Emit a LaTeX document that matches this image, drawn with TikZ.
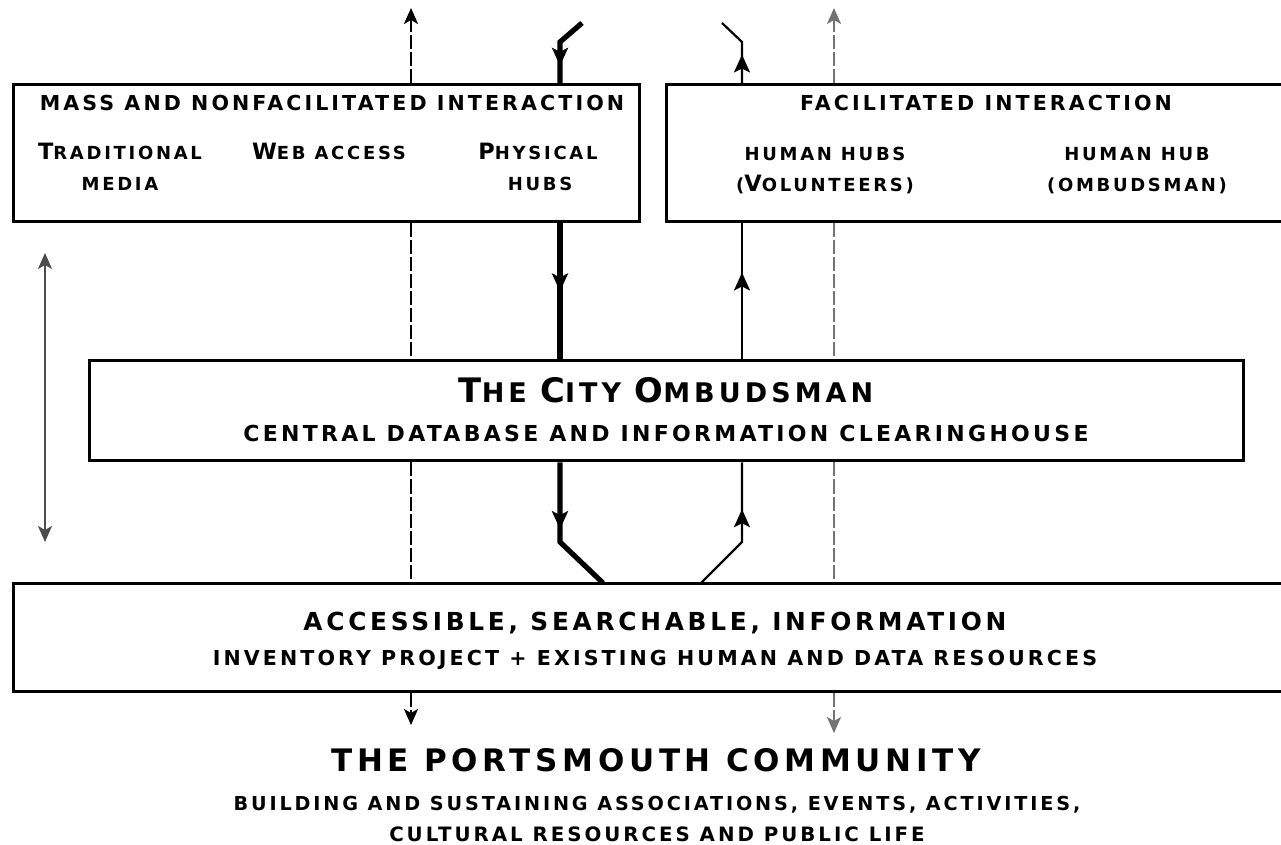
\documentclass[tikz,border=0pt]{standalone}
\usepackage{fontspec}
\usepackage{tikz}
\usetikzlibrary{arrows.meta,decorations.markings}
\newfontfamily\cpfont[LetterSpace=15]{DejaVu Sans}
\newcommand{\ini}[1]{\scalebox{1.25}{#1}}% bigger first letter, small caps look
\tikzset{
  box/.style = {rectangle, draw=black, line width=1.5pt, inner sep=0pt},
  lbl/.style = {inner sep=0pt, anchor=base,
    font=\cpfont\bfseries\fontsize{#1}{#1}\selectfont},
  thk/.style = {line width=2.6pt},% physical hubs flow
  thn/.style = {line width=1.1pt},% volunteers flow
  dsh/.style = {line width=1.2pt, dash pattern=on 7pt off 1.5pt},
  gdsh/.style = {line width=0.8pt, black!55, dash pattern=on 7pt off 1.5pt},
  tip/.style = {-{Stealth[length=8pt,width=7pt,inset=2pt]}},
  midarr/.style = {postaction={decorate}, decoration={markings,
    mark=at position #1 with {\arrow{Stealth[length=9pt,width=8pt,inset=2pt]}}}}
}

\begin{document}
\begin{tikzpicture}[x=0.5pt, y=-0.5pt]
	\useasboundingbox (0,0) rectangle (1281,845);
	% boxes
	\node [box, minimum width=313pt, minimum height=68.5pt] (mass) at (326,153.5) {};
	\node [box, minimum width=312pt, minimum height=68.5pt] (facil) at (978,153.5) {};
	\node [box, minimum width=577pt, minimum height=50pt] (ombud) at (666,411) {};
	\node [box, minimum width=638.5pt, minimum height=54pt] (access) at (651.5,637) {};

	% texts
	\node [lbl=10.3] (massT) at (332,110.5) {MASS AND NONFACILITATED INTERACTION};
	\node [lbl=10.3] (facilT) at (986,110.5) {FACILITATED INTERACTION};
	\node [lbl=9] (tradT) at (120,160) {\ini{T}RADITIONAL};
	\node [lbl=9] (mediaT) at (120,191) {MEDIA};
	\node [lbl=9] (webT) at (329,160) {\ini{W}EB ACCESS};
	\node [lbl=9] (physT) at (538,160) {\ini{P}HYSICAL};
	\node [lbl=9] (hubsT) at (540,191) {HUBS};
	\node [lbl=9] (volA) at (825,161) {HUMAN HUBS};
	\node [lbl=9] (volB) at (825,192) {(\ini{V}OLUNTEERS)};
	\node [lbl=9] (omA) at (1137,161) {HUMAN HUB};
	\node [lbl=9] (omB) at (1137,192) {(OMBUDSMAN)};
	\node [lbl=13.5] (cityT) at (666,403) {\ini{T}HE \ini{C}ITY \ini{O}MBUDSMAN};
	\node [lbl=11] (centralT) at (666,442) {CENTRAL DATABASE AND INFORMATION CLEARINGHOUSE};
	\node [lbl=12.4] (accT) at (655,630) {ACCESSIBLE, SEARCHABLE, INFORMATION};
	\node [lbl=10.3] (invT) at (655,665) {INVENTORY PROJECT + EXISTING HUMAN AND DATA RESOURCES};
	\node [lbl=15.5] (portT) at (656,771) {THE PORTSMOUTH COMMUNITY};
	\node [lbl=9.6] (buildT) at (657,810) {BUILDING AND SUSTAINING ASSOCIATIONS, EVENTS, ACTIVITIES,};
	\node [lbl=9.9] (cultT) at (657,841) {CULTURAL RESOURCES AND PUBLIC LIFE};

	% free ends and bends
	\coordinate (aTop) at (411,8);
	\coordinate (aBot) at (411,725);
	\coordinate (dTop) at (834,8);
	\coordinate (dBot) at (834,733);
	\coordinate (bIn) at (582,23);
	\coordinate (bKnee) at (560,42);
	\coordinate (bLow) at (560,542);
	\coordinate (bFoot) at (603,583);
	\coordinate (cOut) at (722,23);
	\coordinate (cKnee) at (742,42);
	\coordinate (cLow) at (742,542);
	\coordinate (cFoot) at (701,583);
	\coordinate (sTop) at (45,253);
	\coordinate (sBot) at (45,542);

	% dashed lines
	\draw [dsh, tip] (mass.north -| aTop) -- (aTop);
	\draw [dsh] (mass.south -| aTop) -- (ombud.north -| aTop);
	\draw [dsh] (ombud.south -| aTop) -- (access.north -| aTop);
	\draw [dsh, tip] (access.south -| aTop) -- (aBot);
	\draw [gdsh, tip] (facil.north -| dTop) -- (dTop);
	\draw [gdsh] (facil.south -| dTop) -- (ombud.north -| dTop);
	\draw [gdsh] (ombud.south -| dTop) -- (access.north -| dTop);
	\draw [gdsh, tip] (access.south -| dTop) -- (dBot);

	% thick flow down
	\draw [thk, midarr=0.75] (bIn) -- (bKnee) -- (mass.north -| bKnee);
	\draw [thk, midarr=0.5] (mass.south -| bKnee) -- (ombud.north -| bKnee);
	\draw [thk, midarr=0.48] (ombud.south -| bKnee) -- (bLow) -- (bFoot);

	% thin flow up
	\draw [thn, midarr=0.66] (cFoot) -- (cLow) -- (ombud.south -| cLow);
	\draw [thn, midarr=0.64] (ombud.north -| cKnee) -- (facil.south -| cKnee);
	\draw [thn, midarr=0.42] (facil.north -| cKnee) -- (cKnee) -- (cOut);

	\draw [black!70, line width=0.8pt, {Stealth[length=8pt,width=7pt,inset=2pt]}-{Stealth[length=8pt,width=7pt,inset=2pt]}] (sTop) -- (sBot);
\end{tikzpicture}
\end{document}
